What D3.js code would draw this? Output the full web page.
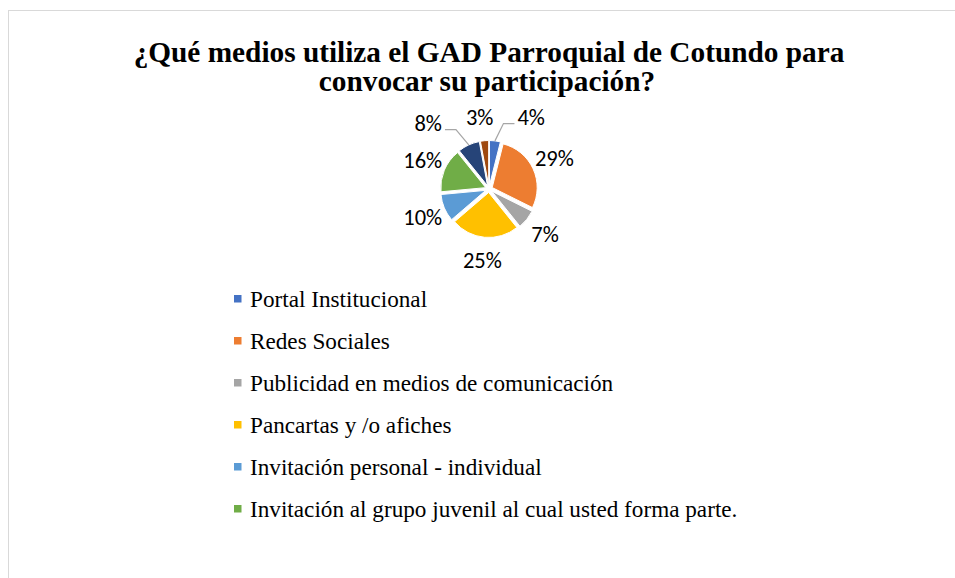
<!DOCTYPE html>
<html>
<head>
<meta charset="utf-8">
<script src="https://cdn.jsdelivr.net/npm/d3@7"></script>
<style>
body { margin: 0; background: #fff; }
svg { display: block; }
</style>
</head>
<body>
<svg id="chart"></svg>
<script>
var width = 955,
height = 578;

// datos (porcentajes)
const categories = [
  "Portal Institucional",
  "Redes Sociales",
  "Publicidad en medios de comunicación",
  "Pancartas y /o afiches",
  "Invitación personal - individual",
  "Invitación al grupo juvenil al cual usted forma parte.",
  "Otros medios",
  "Ninguno"
];
const values = [4, 29, 7, 25, 10, 16, 8, 3];
const colors = ["#4472c4", "#ed7d31", "#a5a5a5", "#ffc000", "#5b9bd5", "#70ad47", "#264478", "#9e480e"];
const legendShown = 6; // la leyenda del original solo muestra 6 elementos

const serif = "'Liberation Serif', 'Times New Roman', serif";

const svg = d3.select("#chart")
  .attr("width", width)
  .attr("height", height);

// marco del area del grafico
svg.append("rect")
  .attr("x", 8.5)
  .attr("y", 10.5)
  .attr("width", 960)
  .attr("height", 600)
  .attr("fill", "#fff")
  .attr("stroke", "#d9d9d9")
  .attr("stroke-width", 1);

// titulo
const title = svg.append("text")
  .attr("text-anchor", "middle")
  .style("font-family", serif)
  .style("font-weight", "bold")
  .style("font-size", "29.3px")
  .attr("fill", "#000");
title.append("tspan").attr("x", 489).attr("y", 62)
  .text("¿Qué medios utiliza el GAD Parroquial de Cotundo para");
title.append("tspan").attr("x", 487).attr("y", 91)
  .text("convocar su participación?");

const cx = 489, cy = 189, r = 45, explode = 3.5;

const pie = d3.pie().sort(null).value(d => d)(values);
const arc = d3.arc().innerRadius(0).outerRadius(r);

const g = svg.append("g").attr("transform", "translate(" + cx + "," + cy + ")");

const mid = d => (d.startAngle + d.endAngle) / 2;

g.selectAll("path.slice")
  .data(pie)
  .enter().append("path")
  .attr("class", "slice")
  .attr("d", arc)
  .attr("fill", (d, i) => colors[i])
  .attr("stroke", "#fff")
  .attr("stroke-width", 1)
  .attr("transform", d => "translate(" + (Math.sin(mid(d)) * explode) + "," + (-Math.cos(mid(d)) * explode) + ")");

// etiquetas de porcentaje fuera del pastel
const labelDist = 72;
const labels = pie.map((d, i) => {
  const a = mid(d);
  const x = Math.sin(a) * labelDist, y = -Math.cos(a) * labelDist;
  return { i: i, a: a, x0: x, x: x, y: y, text: values[i] + "%" };
});

const lbl = g.selectAll("text.lbl")
  .data(labels)
  .enter().append("text")
  .attr("class", "lbl")
  .attr("text-anchor", "middle")
  .attr("dominant-baseline", "central")
  .style("font-family", "Carlito, Calibri, Lato, sans-serif")
  .style("font-size", "22.5px")
  .attr("fill", "#000")
  .text(d => d.text);

lbl.each(function (d) { d.w = this.getComputedTextLength(); });

// separar etiquetas que se montan (empuje horizontal)
for (let k = 0; k < 60; k++) {
  for (let p = 0; p < labels.length; p++) {
    for (let q = p + 1; q < labels.length; q++) {
      const A = labels[p], B = labels[q];
      const need = (A.w + B.w) / 2 + 24;
      const dx = B.x - A.x, dy = B.y - A.y;
      if (Math.abs(dx) < need && Math.abs(dy) < 20) {
        const push = (need - Math.abs(dx)) / 2;
        const sgn = dx >= 0 ? 1 : -1;
        A.x -= sgn * push; B.x += sgn * push;
      }
    }
  }
}

lbl.attr("x", d => d.x).attr("y", d => d.y);

// lineas guia para las etiquetas desplazadas
labels.filter(l => Math.abs(l.x - l.x0) > 12).forEach(l => {
  const ax = Math.sin(l.a) * (r + explode), ay = -Math.cos(l.a) * (r + explode);
  const side = l.x > ax ? -1 : 1;
  const edge = l.x + side * l.w / 2;
  const ly = l.y + 6;
  g.append("polyline")
    .attr("points", [[ax, ay], [edge + side * 14, ly], [edge + side * 3, ly]].map(p => p.join(",")).join(" "))
    .attr("fill", "none")
    .attr("stroke", "#a6a6a6")
    .attr("stroke-width", 1.2);
});

// leyenda
const legend = svg.append("g")
  .selectAll("g")
  .data(categories.slice(0, legendShown))
  .enter().append("g")
  .attr("transform", (d, i) => "translate(234," + (307 + i * 42) + ")");

legend.append("rect")
  .attr("x", 0)
  .attr("y", -12)
  .attr("width", 7.5)
  .attr("height", 7.5)
  .attr("fill", (d, i) => colors[i]);

legend.append("text")
  .attr("x", 16)
  .attr("y", 0)
  .style("font-family", serif)
  .style("font-size", "23.2px")
  .attr("fill", "#000")
  .text(d => d);
</script>
</body>
</html>
